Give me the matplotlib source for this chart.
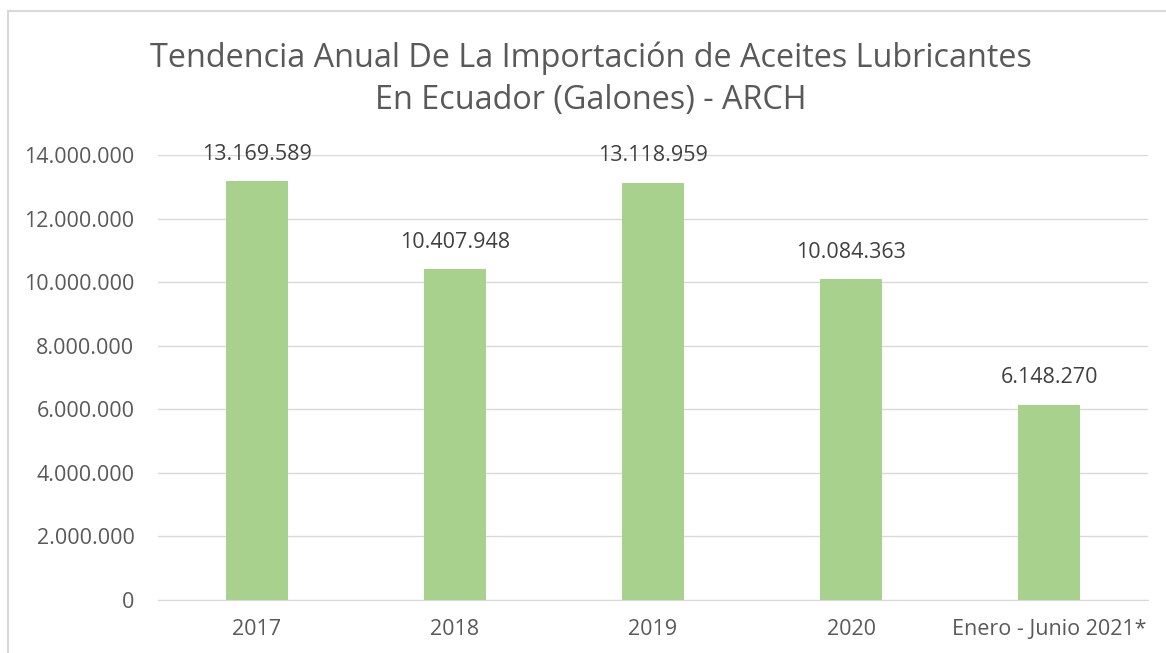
import matplotlib
matplotlib.use("Agg")
import matplotlib.pyplot as plt
from matplotlib.patches import Rectangle

categorias = ["2017", "2018", "2019", "2020", "Enero - Junio 2021*"]
galones = [13169589, 10407948, 13118959, 10084363, 6148270]
yticks = [0, 2000000, 4000000, 6000000, 8000000, 10000000, 12000000, 14000000]


def fmt(v):
    return "{:,}".format(int(v)).replace(",", ".")


plt.rcParams["font.family"] = ["Open Sans", "DejaVu Sans"]

fig = plt.figure(figsize=(11.66, 6.53), dpi=100)
fig.patches.append(Rectangle((8 / 1166, -0.1), 1.2, 1 - 11 / 653 + 0.1,
                             transform=fig.transFigure, fill=False,
                             edgecolor="#D9D9D9", linewidth=1.5))

ax = fig.add_axes([158 / 1166, 1 - 600 / 653, 990 / 1166, (600 - 155) / 653])
x = range(len(categorias))
bars = ax.bar(x, galones, width=0.31, color="#A9D18E", zorder=2)

for b, v in zip(bars, galones):
    ax.annotate(fmt(v), (b.get_x() + b.get_width() / 2, v), xytext=(0, 12),
                textcoords="offset points", ha="center", va="bottom",
                fontsize=15.5, color="#404040")

ax.set_xlim(-0.5, len(categorias) - 0.5)
ax.set_ylim(0, 14000000)
ax.set_yticks(yticks)
ax.set_yticklabels([fmt(t) for t in yticks])
ax.set_xticks(list(x))
ax.set_xticklabels(categorias)
ax.tick_params(axis="both", length=0, labelsize=15.5, labelcolor="#595959")
ax.tick_params(axis="y", pad=17)
ax.tick_params(axis="x", pad=14)
ax.grid(axis="y", color="#D9D9D9", linewidth=1, zorder=0)
for s in ["top", "right", "left"]:
    ax.spines[s].set_visible(False)
ax.spines["bottom"].set_color("#D9D9D9")

fig.text(591 / 1166, 1 - 58 / 653,
         "Tendencia Anual De La Importación de Aceites Lubricantes",
         ha="center", va="center", fontsize=23.3, color="#595959")
fig.text(591 / 1166, 1 - 100 / 653, "En Ecuador (Galones) - ARCH",
         ha="center", va="center", fontsize=23.3, color="#595959")

fig.savefig("out.png", dpi=100)
